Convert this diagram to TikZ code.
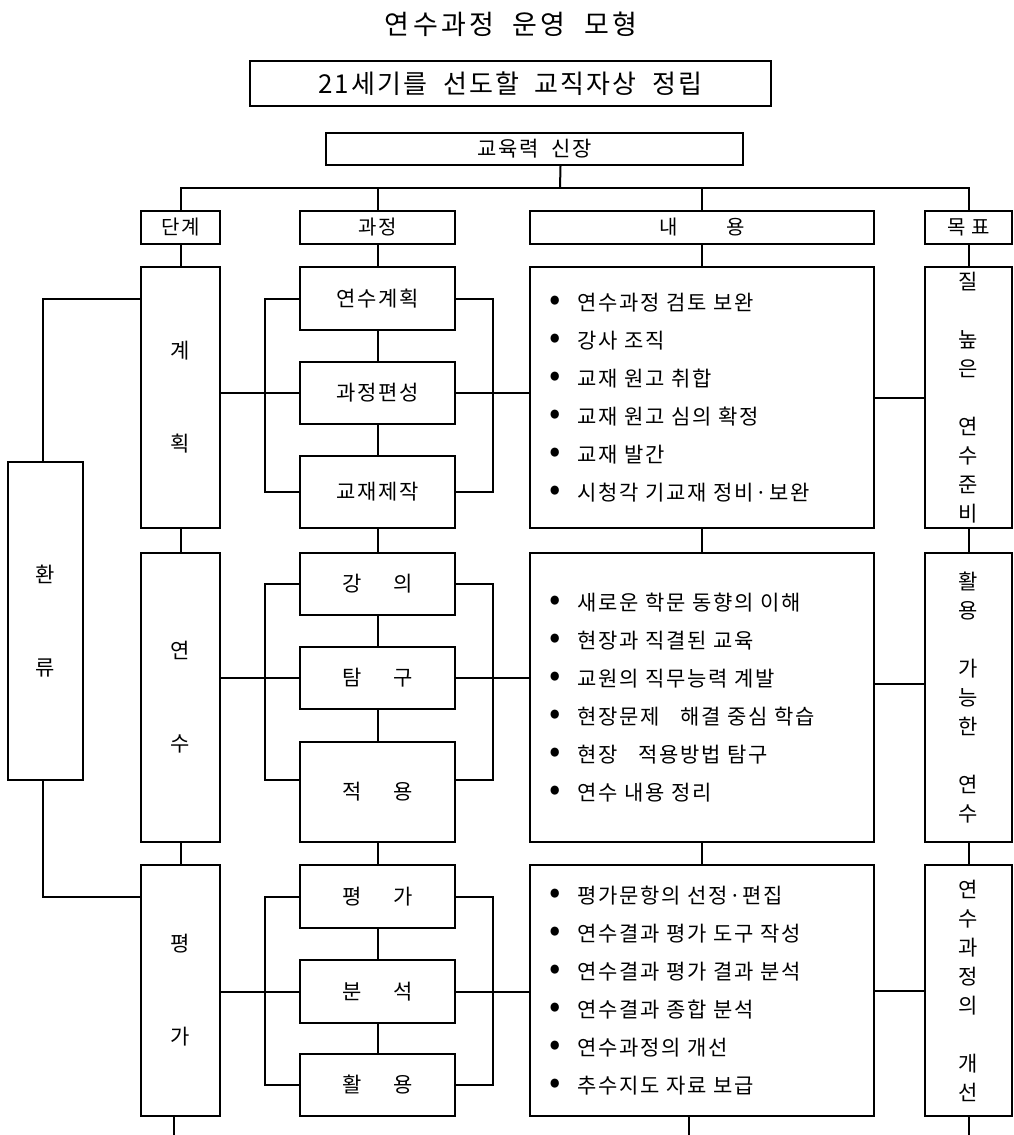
\documentclass[tikz,border=0pt]{standalone}
\usepackage{fontspec}
\setmainfont{Noto Sans CJK KR}[WordSpace=2, LetterSpace=8]
\newfontfamily\titlefont{Noto Sans CJK KR}[WordSpace=2, LetterSpace=12]
\usepackage{tikz}
\usetikzlibrary{calc, positioning}

\newcommand{\bul}[1]{\makebox[28pt][l]{\scalebox{1.6}{•}}#1}

\tikzset{
    box/.style={draw, inner sep=0pt, align=center, font=\fontsize{21}{25}\selectfont},
    headbox/.style={box, minimum height=33, font=\fontsize{20}{24}\selectfont},
    stagebox/.style={box, minimum width=79, minimum height=#1, font=\fontsize{21}{29}\selectfont},
    procbox/.style={box, minimum width=155, minimum height=#1},
    listbox/.style={box, minimum width=344, minimum height=#1, text width=306, align=left, font=\fontsize{21}{38}\selectfont},
    aimbox/.style={box, minimum width=87, minimum height=#1, font=\fontsize{21}{29}\selectfont}
}

\begin{document}
\begin{tikzpicture}[x=1pt, y=-1pt, line width=2pt]
            \useasboundingbox (0,0) rectangle (1013,1135);
            \coordinate (floor) at (0,1135);

            % top
            \node[font=\titlefont\fontsize{27}{30}\selectfont] (title) at (511,24) {연수과정 운영 모형};
            \node[box, minimum width=521, minimum height=45, font=\fontsize{26}{30}\selectfont] (vision) at (510.5,83.5) {21세기를 선도할 교직자상 정립};
            \node[box, minimum width=417, minimum height=32] (power) at (534.5,149) {교육력 신장};

            % headers
            \node[headbox, minimum width=79] (hStage) at (180.5,227.5) {단계};
            \node[headbox, minimum width=155] (hProc) at (377.5,227.5) {과정};
            \node[headbox, minimum width=344] (hCont) at (702,227.5) {내\hspace{48pt}용};
            \node[headbox, minimum width=87] (hAim) at (968.5,227.5) {목\hspace{6pt}표};

            % stages
            \node[stagebox=318, minimum width=75] (feedback) at (45.5,621) {환\\[64pt]류};
            \node[stagebox=261] (sPlan) at (180.5,397.5) {계\\[64pt]획};
            \node[stagebox=289] (sTrain) at (180.5,697.5) {연\\[64pt]수};
            \node[stagebox=251] (sEval) at (180.5,990.5) {평\\[64pt]가};

            % processes
            \node[procbox=63] (p11) at (377.5,298.5) {연수계획};
            \node[procbox=62] (p12) at (377.5,393) {과정편성};
            \node[procbox=72] (p13) at (377.5,492) {교재제작};
            \node[procbox=62] (p21) at (377.5,584) {강\hspace{32pt}의};
            \node[procbox=62] (p22) at (377.5,678) {탐\hspace{32pt}구};
            \node[procbox=100] (p23) at (377.5,792) {적\hspace{32pt}용};
            \node[procbox=63] (p31) at (377.5,896.5) {평\hspace{32pt}가};
            \node[procbox=63] (p32) at (377.5,991.5) {분\hspace{32pt}석};
            \node[procbox=62] (p33) at (377.5,1085) {활\hspace{32pt}용};

            % contents
            \node[listbox=261] (cPlan) at (702,397.5) {\bul{연수과정 검토 보완}\\\bul{강사 조직}\\\bul{교재 원고 취합}\\\bul{교재 원고 심의 확정}\\\bul{교재 발간}\\\bul{시청각 기교재 정비·보완}};
            \node[listbox=289] (cTrain) at (702,697.5) {\bul{새로운 학문 동향의 이해}\\\bul{현장과 직결된 교육}\\\bul{교원의 직무능력 계발}\\\bul{현장문제\hspace{1em}해결 중심 학습}\\\bul{현장\hspace{1em}적용방법 탐구}\\\bul{연수 내용 정리}};
            \node[listbox=251] (cEval) at (702,990.5) {\bul{평가문항의 선정·편집}\\\bul{연수결과 평가 도구 작성}\\\bul{연수결과 평가 결과 분석}\\\bul{연수결과 종합 분석}\\\bul{연수과정의 개선}\\\bul{추수지도 자료 보급}};

            % aims
            \node[aimbox=261] (aPlan) at (968.5,397.5) {질\\[29pt]높\\은\\[29pt]연\\수\\준\\비};
            \node[aimbox=289] (aTrain) at (968.5,697.5) {활\\용\\[29pt]가\\능\\한\\[29pt]연\\수};
            \node[aimbox=251] (aEval) at (968.5,990.5) {연\\수\\과\\정\\의\\[29pt]개\\선};

            % tree
            \coordinate (bus) at (560,188);
            \draw ([xshift=26]power.south) -- (bus);
            \draw (hStage.north) |- (bus) -| (hAim.north);
            \draw (hProc.north) -- (hProc.north |- bus);
            \draw (hCont.north) -- (hCont.north |- bus);

            % columns
            \foreach \a/\b in {hStage/sPlan, sPlan/sTrain, sTrain/sEval,
                hProc/p11, p11/p12, p12/p13, p13/p21, p21/p22, p22/p23, p23/p31, p31/p32, p32/p33,
                hCont/cPlan, cPlan/cTrain, cTrain/cEval,
                hAim/aPlan, aPlan/aTrain, aTrain/aEval}
                \draw (\a.south) -- (\b.north);
            \draw ([xshift=-7]sEval.south) -- ([xshift=-7]sEval.south |- floor);
            \draw ([xshift=-13]cEval.south) -- ([xshift=-13]cEval.south |- floor);
            \draw (aEval.south) -- (aEval.south |- floor);

            % plan row
            \draw (p11.west) -- ++(-34,0) |- (p13.west);
            \draw (p11.east) -- ++(37,0) |- (p13.east);
            \draw (sPlan.east |- p12) -- (p12.west);
            \draw (p12.east) -- (cPlan.west |- p12);
            \draw (cPlan.east) -- (aPlan.west |- cPlan.east);

            % training row
            \coordinate (jLeft) at ([yshift=12]p23.west);
            \coordinate (jRight) at ([yshift=12]p23.east);
            \coordinate (tAim) at ([yshift=14]cTrain.east);
            \draw (p21.west) -- ++(-34,0) |- (jLeft);
            \draw (p21.east) -- ++(37,0) |- (jRight);
            \draw (sTrain.east |- p22) -- (p22.west);
            \draw (p22.east) -- (cTrain.west |- p22);
            \draw (tAim) -- (tAim -| aTrain.west);

            % evaluation row
            \draw (p31.west) -- ++(-34,0) |- (p33.west);
            \draw (p31.east) -- ++(37,0) |- (p33.east);
            \draw (sEval.east |- p32) -- (p32.west);
            \draw (p32.east) -- (cEval.west |- p32);
            \draw (cEval.east) -- (aEval.west |- cEval.east);

            % feedback
            \draw ([xshift=-3]feedback.north) |- (sPlan.west |- p11);
            \draw ([xshift=-3]feedback.south) |- (sEval.west |- p31);
        \end{tikzpicture}
\end{document}
